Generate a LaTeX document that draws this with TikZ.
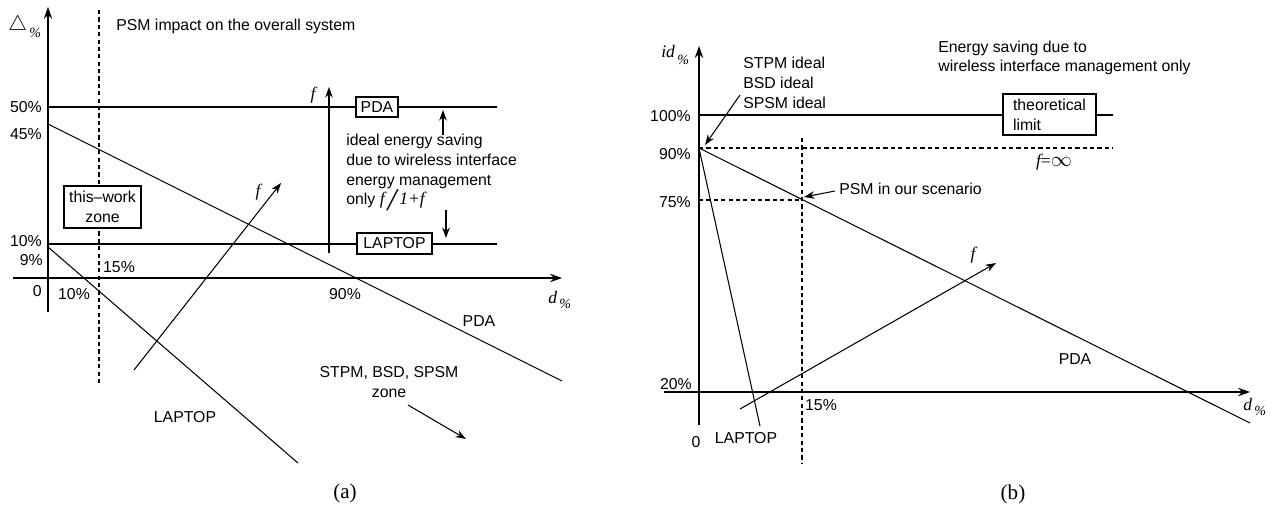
\documentclass[tikz,border=0pt]{standalone}
\usepackage{fontspec}
\setmainfont{Liberation Sans}
\newfontfamily\figserif{Liberation Serif}
\usetikzlibrary{arrows.meta}

\begin{document}
\begin{tikzpicture}[x=0.02cm,y=-0.02cm,
  every node/.style={font=\fontsize{9}{11.2}\selectfont, inner sep=0pt},
  ln/.style={line width=0.6pt},
  ax/.style={line width=0.65pt, -{Stealth[length=6.8pt,width=4.8pt]}},
  arr/.style={line width=0.6pt, -{Stealth[length=6pt,width=4.3pt]}},
  dsh/.style={line width=0.6pt, dash pattern=on 2.4pt off 1.8pt},
  boxed/.style={draw, line width=0.6pt, fill=white, align=center},
  var/.style={font=\fontsize{10}{12}\figserif\itshape},
  caption/.style={font=\fontsize{12}{14}\figserif}]
\useasboundingbox (0,0) rectangle (1272,508);

% ---------------- panel (a): PSM impact on the overall system
\coordinate (aYb) at (48,312);  \coordinate (aYt) at (48,7);
\coordinate (aXl) at (13,278);  \coordinate (aXr) at (562,278);
\draw[ax] (aYb) -- (aYt);
\draw[ax] (aXl) -- (aXr);
\coordinate (aDt) at (99,10);   \coordinate (aDb) at (99,385);
\draw[dsh] (aDt) -- (aDb);

% 50% and 10% saving levels
\coordinate (a50l) at (48,107);  \coordinate (a50r) at (497,107);
\coordinate (a10l) at (48,244);  \coordinate (a10r) at (497,244);
\draw[ln] (a50l) -- (a50r);
\draw[ln] (a10l) -- (a10r);

% device curves
\coordinate (aPs) at (48,124);  \coordinate (aPe) at (562,381);
\coordinate (aLs) at (48,247);  \coordinate (aLe) at (298,463);
\draw[ln] (aPs) -- (aPe);
\draw[ln] (aLs) -- (aLe);

% growing f
\coordinate (aFs) at (134,370); \coordinate (aFe) at (281,183);
\draw[arr] (aFs) -- (aFe);
\node[var] (aFlab) at (258,192) {f};
\coordinate (aVs) at (329,253); \coordinate (aVe) at (329,87);
\draw[arr] (aVs) -- (aVe);
\node[var] (aVlab) at (313,95) {f};

\node[boxed, minimum width=0.84cm, minimum height=0.4cm] (aPDA) at (377,107) {PDA};
\node[boxed, minimum width=1.5cm, minimum height=0.42cm] (aLAP) at (394.5,243.5) {LAPTOP};
\node[boxed, minimum width=1.54cm, minimum height=0.84cm] (aWork) at (102.5,207) {this–work\\zone};

\coordinate (aUs) at (443,135); \coordinate (aUe) at (443,110);
\draw[arr] (aUs) -- (aUe);
\coordinate (aDs) at (446,210); \coordinate (aDe) at (446,238);
\draw[arr] (aDs) -- (aDe);
\node[anchor=west, align=left] (aIdeal) at (346,172.5)
  {ideal energy saving\\due to wireless interface\\energy management\\only {\figserif\itshape\fontsize{10}{12}\selectfont f\,\raisebox{-3pt}{\fontsize{18}{18}\selectfont/}\,1+f}};

% axis labels
\node[anchor=west] (aYlab) at (8,27)
  {{\fontsize{12}{14}\selectfont$\triangle$}\raisebox{-4pt}{\figserif\itshape\fontsize{8}{9}\selectfont\,\%}};
\node[anchor=west] (aXlab) at (548,300)
  {{\figserif\itshape\fontsize{10}{12}\selectfont d}\raisebox{-3pt}{\figserif\itshape\fontsize{8}{9}\selectfont\,\%}};
\node[anchor=east] (a50) at (42,107) {50\%};
\node[anchor=east] (a45) at (42,134) {45\%};
\node[anchor=east] (a10) at (42,241) {10\%};
\node[anchor=east] (a9)  at (43,260) {9\%};
\node[anchor=east] (a0)  at (42,291) {0};
\node (ad10) at (74,294) {10\%};
\node (ad15) at (119,267) {15\%};
\node (ad90) at (345,294) {90\%};

\node[anchor=west] (aTitle) at (116,26) {PSM impact on the overall system};
\node (aPDAlab) at (479,321) {PDA};
\node (aLAPlab) at (185,417) {LAPTOP};
\node[align=center] (aZone) at (389,382) {STPM, BSD, SPSM\\zone};
\coordinate (aZs) at (408,405); \coordinate (aZe) at (466,439);
\draw[arr] (aZs) -- (aZe);
\node[caption] (capA) at (345,493) {(a)};

% ---------------- panel (b): energy saving due to the interface only
\coordinate (bYb) at (699,425); \coordinate (bYt) at (699,46);
\coordinate (bXl) at (664,392); \coordinate (bXr) at (1250,392);
\draw[ax] (bYb) -- (bYt);
\draw[ax] (bXl) -- (bXr);

\coordinate (b100l) at (699,115); \coordinate (b100r) at (1113,115);
\draw[ln] (b100l) -- (b100r);
\node[boxed, align=left, minimum width=1.86cm, minimum height=0.82cm] (bLimit) at (1049.5,114.5)
  {theoretical\\limit};

\coordinate (b90l) at (699,148);  \coordinate (b90r) at (1113,148);
\draw[dsh] (b90l) -- (b90r);
\node (bInf) at (1054,162)
  {{\figserif\itshape\fontsize{10}{12}\selectfont f}{\figserif\fontsize{10}{12}\selectfont =}{\fontsize{12}{12}\selectfont$\infty$}};
\coordinate (b75l) at (699,200);  \coordinate (b75r) at (802,200);
\draw[dsh] (b75l) -- (b75r);
\coordinate (bVt) at (802,138);   \coordinate (bVb) at (802,464);
\draw[dsh] (bVt) -- (bVb);

\coordinate (bPe) at (1250,423);
\coordinate (bLe) at (760,426);
\draw[ln] (b90l) -- (bPe);
\draw[ln] (b90l) -- (bLe);

\coordinate (bFs) at (740,409); \coordinate (bFe) at (996,263);
\draw[arr] (bFs) -- (bFe);
\node[var] (bFlab) at (973,255) {f};

\node[anchor=west, align=left] (bIdeal) at (743,83) {STPM ideal\\BSD ideal\\SPSM ideal};
\coordinate (bIs) at (740,95); \coordinate (bIe) at (705,145);
\draw[arr] (bIs) -- (bIe);
\node[anchor=west] (bPSM) at (839,189) {PSM in our scenario};
\coordinate (bSs) at (835,191); \coordinate (bSe) at (804,197);
\draw[arr] (bSs) -- (bSe);
\node[anchor=west, align=left] (bTitle) at (938,58)
  {Energy saving due to\\wireless interface management only};

\node[anchor=west] (bYlab) at (661,55)
  {{\figserif\itshape\fontsize{10}{12}\selectfont id}\raisebox{-4pt}{\figserif\itshape\fontsize{8}{9}\selectfont\,\%}};
\node[anchor=west] (bXlab) at (1243,407)
  {{\figserif\itshape\fontsize{10}{12}\selectfont d}\raisebox{-3pt}{\figserif\itshape\fontsize{8}{9}\selectfont\,\%}};
\node[anchor=east] (b100) at (691,116) {100\%};
\node[anchor=east] (b90)  at (691,154) {90\%};
\node[anchor=east] (b75)  at (691,202) {75\%};
\node[anchor=east] (b20)  at (692,384) {20\%};
\node (b0)   at (696,442) {0};
\node (bd15) at (821,405) {15\%};
\node (bLAPlab) at (746,438) {LAPTOP};
\node (bPDAlab) at (1075,359) {PDA};
\node[caption] (capB) at (1013,494) {(b)};
\end{tikzpicture}
\end{document}
